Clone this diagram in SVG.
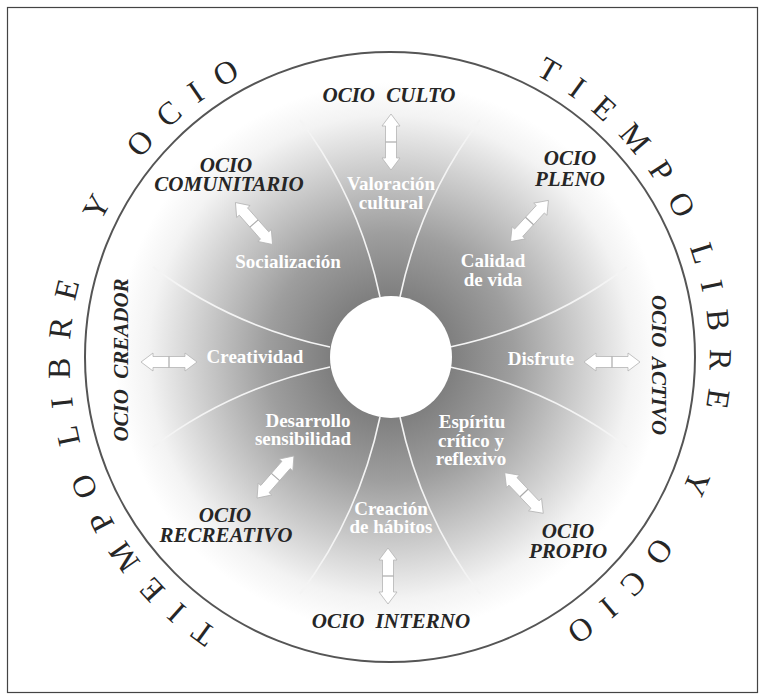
<svg xmlns="http://www.w3.org/2000/svg" width="765" height="700" viewBox="0 0 765 700">
<defs>
  <style>
    .k{font-family:"Liberation Serif","Times New Roman",serif;font-weight:bold;font-style:italic;font-size:21px;fill:#262626;text-anchor:middle}
    .w{font-family:"Liberation Serif","Times New Roman",serif;font-weight:bold;font-size:19px;fill:#ffffff;text-anchor:middle}
    .r{font-family:"Liberation Serif","Times New Roman",serif;font-size:32px;fill:#262626;letter-spacing:17.5px}
    .dv{fill:none;stroke:#f4f4f4;stroke-width:1.6}
  </style>
  <radialGradient id="g" cx="390" cy="357" r="275" gradientUnits="userSpaceOnUse">
    <stop offset="0.2" stop-color="#7c7c7c"/>
    <stop offset="0.45" stop-color="#9e9e9e"/>
    <stop offset="0.7" stop-color="#cfcfcf"/>
    <stop offset="0.88" stop-color="#f3f3f3"/>
    <stop offset="1" stop-color="#ffffff"/>
  </radialGradient>
  <path id="lp" d="M217.8,629.7 A320,320 0 0 1 512.7,64.4"/>
  <path id="rp" d="M535,74.8 A320,320 0 0 1 296.7,666.1"/>
  <path id="dv" class="dv" d="M-10,-60 Q-31,-159 -90,-237"/>
  <g id="arr">
    <polygon points="-28,0 -16,-9 -16,-5.5 16,-5.5 16,-9 28,0 16,9 16,5.5 -16,5.5 -16,9" fill="#ffffff" stroke="#b4b4b4" stroke-width="0.8"/>
    <line x1="0" y1="-5.5" x2="0" y2="5.5" stroke="#aaaaaa" stroke-width="1.2"/>
  </g>
</defs>

<rect x="7.5" y="7.5" width="750" height="685" fill="#ffffff" stroke="#444" stroke-width="1.2"/>

<g id="background">
  <circle cx="390" cy="357" r="275" fill="url(#g)"/>
  <circle cx="390" cy="357" r="305" fill="none" stroke="#555" stroke-width="2"/>
</g>

<g id="dividers">
  <use href="#dv" transform="translate(390,357)"/>
  <use href="#dv" transform="translate(390,357) scale(-1,1)"/>
  <use href="#dv" transform="translate(390,357) rotate(90)"/>
  <use href="#dv" transform="translate(390,357) rotate(90) scale(-1,1)"/>
  <use href="#dv" transform="translate(390,357) rotate(180)"/>
  <use href="#dv" transform="translate(390,357) rotate(180) scale(-1,1)"/>
  <use href="#dv" transform="translate(390,357) rotate(270)"/>
  <use href="#dv" transform="translate(390,357) rotate(270) scale(-1,1)"/>
</g>

<g id="centro">
  <circle cx="391" cy="357" r="61" fill="#ffffff"/>
</g>

<g id="ring-text">
  <text class="r"><textPath href="#lp">TIEMPO<tspan dx="-13"> LIBRE</tspan><tspan dx="22"> Y</tspan><tspan dx="10"> OCIO</tspan></textPath></text>
  <text class="r"><textPath href="#rp">TIEMPO<tspan dx="-13"> LIBRE</tspan><tspan dx="22"> Y</tspan><tspan dx="10"> OCIO</tspan></textPath></text>
</g>

<g id="connectors">
  <use href="#arr" transform="translate(391,142) rotate(90)"/>
  <use href="#arr" transform="translate(529.5,221) rotate(-47.4)"/>
  <use href="#arr" transform="translate(254,223.5) rotate(48.5)"/>
  <use href="#arr" transform="translate(169,362)"/>
  <use href="#arr" transform="translate(612,362)"/>
  <use href="#arr" transform="translate(275.5,477) rotate(-48.8)"/>
  <use href="#arr" transform="translate(524,493) rotate(46.5)"/>
  <use href="#arr" transform="translate(388,576) rotate(90)"/>
</g>

<g id="ocio-culto">
  <text class="w" x="391" y="190">Valoración</text>
  <text class="w" x="391" y="208.5">cultural</text>
  <text class="k" x="389" y="102" word-spacing="6">OCIO CULTO</text>
</g>
<g id="ocio-pleno">
  <text class="w" x="493" y="267">Calidad</text>
  <text class="w" x="493" y="285.5">de vida</text>
  <text class="k" x="570" y="165">OCIO</text>
  <text class="k" x="570" y="186">PLENO</text>
</g>
<g id="ocio-activo">
  <text class="w" x="541" y="365">Disfrute</text>
  <text class="k" transform="translate(652,365) rotate(90)" word-spacing="5">OCIO ACTIVO</text>
</g>
<g id="ocio-propio">
  <text class="w" x="472" y="428">Espíritu</text>
  <text class="w" x="471" y="447">crítico y</text>
  <text class="w" x="471" y="465">reflexivo</text>
  <text class="k" x="568" y="538">OCIO</text>
  <text class="k" x="568" y="558">PROPIO</text>
</g>
<g id="ocio-interno">
  <text class="w" x="391" y="515">Creación</text>
  <text class="w" x="391" y="533">de hábitos</text>
  <text class="k" x="391" y="628" word-spacing="6">OCIO INTERNO</text>
</g>
<g id="ocio-recreativo">
  <text class="w" x="308" y="427">Desarrollo</text>
  <text class="w" x="303" y="445">sensibilidad</text>
  <text class="k" x="225" y="522">OCIO</text>
  <text class="k" x="226" y="542">RECREATIVO</text>
</g>
<g id="ocio-creador">
  <text class="w" x="255" y="363">Creatividad</text>
  <text class="k" transform="translate(128,360) rotate(-90)" word-spacing="5">OCIO CREADOR</text>
</g>
<g id="ocio-comunitario">
  <text class="w" x="288" y="268">Socialización</text>
  <text class="k" x="226" y="172">OCIO</text>
  <text class="k" x="229" y="191">COMUNITARIO</text>
</g>
</svg>
